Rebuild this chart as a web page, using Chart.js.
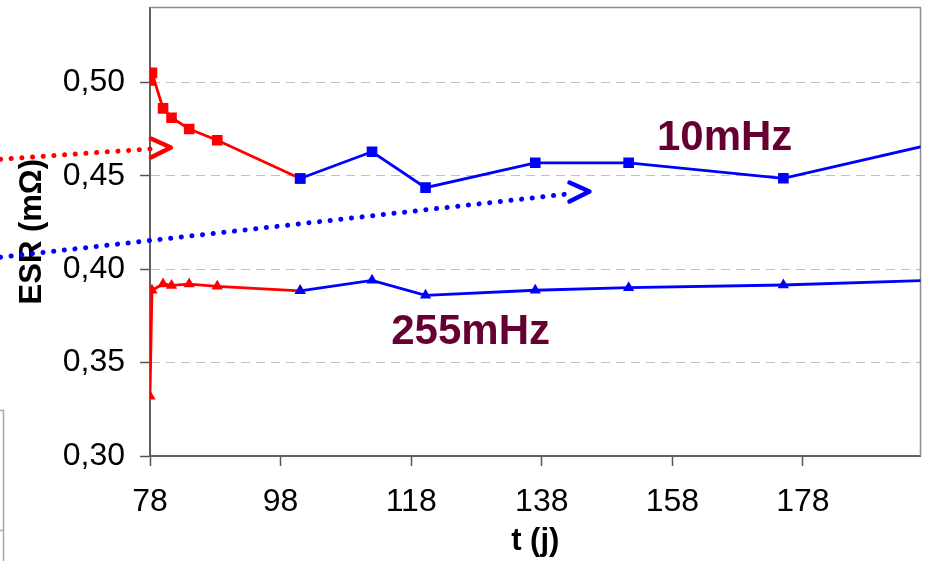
<!DOCTYPE html>
<html>
<head>
<meta charset="utf-8">
<script src="https://cdn.jsdelivr.net/npm/chart.js@4.4.0/dist/chart.umd.min.js"></script>
<style>
  html, body { margin: 0; padding: 0; background: #fff; }
  #wrap { width: 928px; height: 561px; }
</style>
</head>
<body>
<div id="wrap"><canvas id="myChart"></canvas></div>
<script>
const xTicks = [78, 98, 118, 138, 158, 178];
const yTicks = [0.30, 0.35, 0.40, 0.45, 0.50];
const xMin = 78, xMax = 196;
const yMin = 0.30, yMax = 0.54;

// 10 mHz (squares), first period red then blue
const days10Red = [78, 78.3, 80, 81.3, 84, 88.3, 101];
const esr10Red = [0.501, 0.505, 0.486, 0.481, 0.475, 0.469, 0.4485];
const days10Blue = [101, 112, 120.2, 137, 151.3, 175, 197];
const esr10Blue = [0.4485, 0.4628, 0.4436, 0.4569, 0.4569, 0.4486, 0.4662];

// 255 mHz (triangles)
const days255Red = [78, 78.3, 80, 81.3, 84, 88.3, 101];
const esr255Red = [0.332, 0.3887, 0.392, 0.3913, 0.392, 0.3908, 0.3884];
const days255Blue = [101, 112, 120.2, 137, 151.3, 175, 197];
const esr255Blue = [0.3884, 0.394, 0.386, 0.3887, 0.3901, 0.3915, 0.3939];

// annotations in data units: label text + dotted arrows
const labels = [
  { text: '10mHz', x: 166, y: 0.4697 },
  { text: '255mHz', x: 127.1, y: 0.366 }
];
const arrows = [
  { color: '#ff0000', from: [55.1, 0.4588], to: [81.2, 0.4651] },
  { color: '#0000ff', from: [55.1, 0.4064], to: [145.3, 0.4415] }
];

const FONT = '"Liberation Sans", Arial, sans-serif';

const pts = (xs, ys) => xs.map((x, i) => ({ x: x, y: ys[i] }));
const hideOut = r => c => (c.raw && c.raw.x > xMax ? 0 : r);

function series(xs, ys, color, style, r) {
  return {
    data: pts(xs, ys),
    borderColor: color,
    backgroundColor: color,
    pointBackgroundColor: color,
    pointBorderColor: color,
    pointBorderWidth: 0,
    pointStyle: style,
    pointRadius: hideOut(r),
    borderWidth: 2.8,
    tension: 0,
    showLine: true
  };
}

const extras = {
  id: 'extras',
  beforeDatasetsDraw(chart) {
    const { ctx, chartArea: a } = chart;
    ctx.save();
    // top / right frame
    ctx.strokeStyle = '#8c8c8c';
    ctx.lineWidth = 1.5;
    ctx.beginPath();
    ctx.moveTo(a.left, a.top);
    ctx.lineTo(a.right, a.top);
    ctx.lineTo(a.right, a.bottom);
    ctx.stroke();
    // clipped legend box at bottom left
    ctx.strokeStyle = '#a8a8a8';
    ctx.lineWidth = 1.5;
    ctx.strokeRect(-20, 410.5, 23.5, 200);
    ctx.beginPath();
    ctx.moveTo(0, 530.5);
    ctx.lineTo(3.5, 530.5);
    ctx.stroke();
    ctx.restore();
  },
  afterDatasetsDraw(chart) {
    const { ctx } = chart;
    const sx = chart.scales.x, sy = chart.scales.y;
    ctx.save();
    arrows.forEach(a => {
      const x0 = sx.getPixelForValue(a.from[0]), y0 = sy.getPixelForValue(a.from[1]);
      const x1 = sx.getPixelForValue(a.to[0]), y1 = sy.getPixelForValue(a.to[1]);
      const t = (x1 - 20 - x0) / (x1 - x0);
      ctx.strokeStyle = a.color;
      ctx.lineWidth = 5;
      ctx.lineCap = 'round';
      ctx.setLineDash([0.1, 10.6]);
      ctx.beginPath();
      ctx.moveTo(x0, y0);
      ctx.lineTo(x0 + (x1 - x0) * t, y0 + (y1 - y0) * t);
      ctx.stroke();
      ctx.setLineDash([]);
      ctx.lineJoin = 'round';
      ctx.lineWidth = 4.5;
      ctx.beginPath();
      ctx.moveTo(x1 - 20, y1 - 9);
      ctx.lineTo(x1, y1);
      ctx.lineTo(x1 - 20, y1 + 10);
      ctx.stroke();
    });
    ctx.fillStyle = '#660033';
    ctx.font = 'bold 42px ' + FONT;
    ctx.textAlign = 'center';
    ctx.textBaseline = 'middle';
    labels.forEach(l => {
      ctx.fillText(l.text, sx.getPixelForValue(l.x), sy.getPixelForValue(l.y));
    });
    ctx.restore();
  }
};

new Chart(document.getElementById('myChart'), {
  type: 'line',
  data: {
    datasets: [
      series(days10Blue, esr10Blue, '#0000ff', 'rect', 7.5),
      series(days255Blue, esr255Blue, '#0000ff', 'triangle', 6.5),
      series(days10Red, esr10Red, '#ff0000', 'rect', 7.5),
      series(days255Red, esr255Red, '#ff0000', 'triangle', 6.5)
    ]
  },
  plugins: [extras],
  options: {
    responsive: true,
    maintainAspectRatio: false,
    animation: false,
    layout: { padding: { top: 6, right: 5, bottom: 0, left: 0 } },
    plugins: {
      legend: { display: false },
      tooltip: { enabled: false }
    },
    scales: {
      x: {
        type: 'linear',
        min: xMin,
        max: xMax,
        afterBuildTicks: s => { s.ticks = xTicks.map(v => ({ value: v })); },
        afterFit: s => { s.height = 105; s.paddingLeft = 0; s.paddingRight = 0; },
        grid: { display: true, drawOnChartArea: false, drawTicks: true, tickLength: 10, tickColor: '#555', tickWidth: 1.5 },
        border: { color: '#606060', width: 2 },
        ticks: { color: '#000', font: { family: FONT, size: 32 }, padding: 17, maxRotation: 0, autoSkip: false },
        title: { display: true, text: 't (j)', color: '#000', font: { family: FONT, size: 31, weight: 'bold' }, padding: { top: 0, bottom: 1 } }
      },
      y: {
        min: yMin,
        max: yMax,
        afterBuildTicks: s => { s.ticks = yTicks.map(v => ({ value: v })); },
        afterFit: s => { s.width = 150; s.paddingTop = 0; s.paddingBottom = 0; },
        grid: { color: '#c0c0c0', lineWidth: 1, tickLength: 10, tickColor: '#555', tickWidth: 1.5, tickBorderDash: [] },
        border: { color: '#606060', width: 2, dash: [9, 6] },
        ticks: {
          color: '#000',
          font: { family: FONT, size: 32 },
          padding: 15,
          callback: v => v.toFixed(2).replace('.', ',')
        },
        title: { display: true, text: 'ESR (mΩ)', color: '#000', font: { family: FONT, size: 31, weight: 'bold' }, padding: { top: 14, bottom: 0 } }
      }
    }
  }
});
</script>
</body>
</html>
